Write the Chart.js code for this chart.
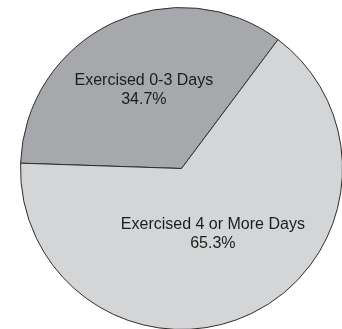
<!DOCTYPE html>
<html>
<head>
<meta charset="utf-8">
<script src="https://cdn.jsdelivr.net/npm/chart.js@4"></script>
<style>
  html, body { margin: 0; padding: 0; background: #ffffff; }
  #wrap { width: 342px; height: 329px; }
</style>
</head>
<body>
<div id="wrap"><canvas id="c" width="342" height="329"></canvas></div>
<script>
// Share of respondents by number of days exercised
const categories = ["Exercised 0-3 Days", "Exercised 4 or More Days"];
const shares = [34.7, 65.3];
const sliceColors = ["#a7a8ab", "#d4d5d7"];

// Slice labels: category name plus percentage, placed along each slice's mid angle
const sliceLabels = {
  id: "sliceLabels",
  afterDatasetsDraw(chart, args, opts) {
    const ctx = chart.ctx;
    const meta = chart.getDatasetMeta(0);
    ctx.save();
    ctx.font = "16px 'Liberation Sans', Arial, sans-serif";
    ctx.fillStyle = "#1c1c1c";
    ctx.textAlign = "center";
    ctx.textBaseline = "middle";
    meta.data.forEach((arc, i) => {
      const p = arc.getProps(["x", "y", "startAngle", "endAngle", "outerRadius"], true);
      const mid = (p.startAngle + p.endAngle) / 2;
      const r = p.outerRadius * opts.distance[i];
      const cx = p.x + Math.cos(mid) * r;
      const cy = p.y + Math.sin(mid) * r;
      ctx.fillText(categories[i], cx, cy - 9.5);
      ctx.fillText(shares[i].toFixed(1) + "%", cx, cy + 9.5);
    });
    ctx.restore();
  }
};

new Chart(document.getElementById("c"), {
  type: "pie",
  data: {
    labels: categories,
    datasets: [{
      data: shares,
      backgroundColor: sliceColors,
      borderColor: "#2e2e2e",
      borderWidth: 1,
      clip: false
    }]
  },
  options: {
    responsive: false,
    animation: false,
    rotation: -88.1,
    radius: 161,
    layout: { padding: { left: 21, right: 0, top: 8, bottom: 0 } },
    plugins: {
      legend: { display: false },
      tooltip: { enabled: false },
      sliceLabels: { distance: [0.54, 0.45] }
    }
  },
  plugins: [sliceLabels]
});
</script>
</body>
</html>
